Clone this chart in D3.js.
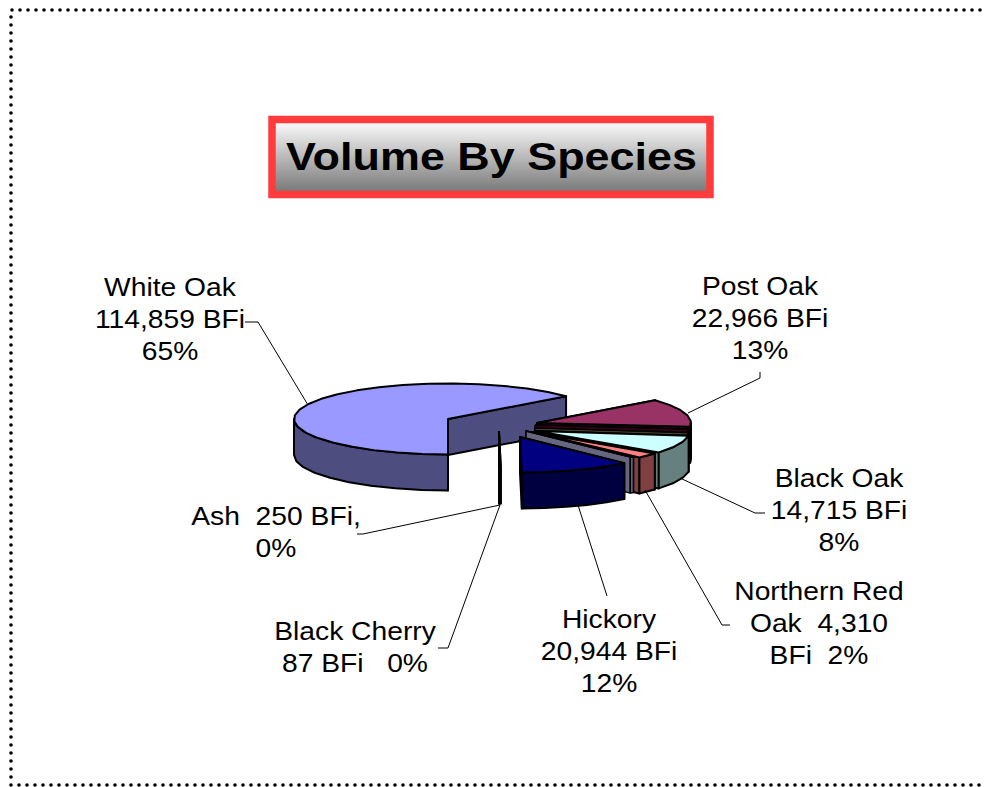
<!DOCTYPE html>
<html>
<head>
<meta charset="utf-8">
<script src="https://cdn.jsdelivr.net/npm/d3@7"></script>
<style>
  body { margin: 0; background: #fff; }
  text { font-family: "Liberation Sans", Arial, sans-serif; fill: #000; }
</style>
</head>
<body>
<div id="chart"></div>
<script>
// data. the three "" slices are unlabelled slivers in the original
var species = ["White Oak", "Post Oak", "", "", "Black Oak", "Northern Red Oak", "", "Hickory", "Ash", "Black Cherry"];
var volumes = [114859, 22966, 300, 500, 14715, 4310, 800, 20944, 250, 87];

var labelLines = [
    ["White Oak", "114,859 BFi", "65%"],
    ["Post Oak", "22,966 BFi", "13%"],
    ["Black Oak", "14,715 BFi", "8%"],
    ["Northern Red", "Oak  4,310", "BFi  2%"],
    ["Hickory", "20,944 BFi", "12%"],
    ["Black Cherry", "87 BFi   0%"],
    ["Ash  250 BFi,", "0%"]
];

var width = 984, height = 787;
var rx = 154, ry = 35.5, depth = 36;

// colours and explode position per slice, same order as species
var topColors = ["#9999ff", "#993366", "#660033", "#8c8c66", "#ccffff", "#ff8080", "#666699", "#000080", "#000", "#000"];
var sideColors = ["#4d4d80", "#4d1a33", "#330019", "#404030", "#668080", "#804040", "#666680", "#000040", "#000", "#000"];
var centers = [[448, 419], [537, 423], [535, 425], [535, 428], [536, 431], [532, 432], [526, 431], [520, 437], [499, 432], [499, 432]];
var strokes = [2, 2, 1, 1, 2, 2, 1.5, 2, 2, 2];
var paintOrder = [0, 1, 2, 3, 4, 5, 6, 8, 9, 7];

var svg = d3.select("#chart").append("svg")
    .attr("width", width)
    .attr("height", height)
    .style("display", "block");

// dotted frame
svg.append("path")
    .attr("d", "M11,785V10H984 M11,785H984")
    .attr("fill", "none")
    .attr("stroke", "#000")
    .attr("stroke-width", 3.6)
    .attr("stroke-linecap", "round")
    .attr("stroke-dasharray", "0 8");

// title box
var grad = svg.append("defs").append("linearGradient")
    .attr("id", "titleFill")
    .attr("x1", 0).attr("y1", 0).attr("x2", 0).attr("y2", 1);
grad.append("stop").attr("offset", 0).attr("stop-color", "#fff");
grad.append("stop").attr("offset", 1).attr("stop-color", "#747474");

svg.append("rect")
    .attr("x", 272).attr("y", 119.5)
    .attr("width", 438).attr("height", 75)
    .attr("fill", "url(#titleFill)")
    .attr("stroke", "#ff3b3b")
    .attr("stroke-width", 7.5);

// the original text is stretched sideways
svg.append("text")
    .attr("x", 286).attr("y", 170)
    .attr("textLength", 411)
    .attr("lengthAdjust", "spacingAndGlyphs")
    .style("font-size", "38.5px")
    .style("font-weight", "bold")
    .text("Volume By Species");

// pie, clockwise from straight down
var startAngle = Math.PI;
var pie = d3.pie().sort(null).startAngle(startAngle).endAngle(startAngle + Math.PI * 2);
var arcs = pie(volumes);

function rim(c, a, drop) {
    return [c[0] + rx * Math.sin(a), c[1] - ry * Math.cos(a) + (drop || 0)];
}

// polygon steps keep the slightly jagged rim of the original
function rimAngles(a0, a1) {
    var step = 10 * Math.PI / 180;
    var n = Math.max(1, Math.ceil((a1 - a0) / step));
    return d3.range(n + 1).map(function (i) { return a0 + (a1 - a0) * i / n; });
}

var line = d3.line();

function drawPath(g, pts, fill, sw) {
    g.append("path")
        .attr("d", line(pts) + "Z")
        .attr("fill", fill)
        .attr("stroke", "#000")
        .attr("stroke-width", sw)
        .attr("stroke-linejoin", "round");
}

var pieG = svg.append("g");

paintOrder.forEach(function (i) {
    var d = arcs[i], c = centers[i];
    var g = pieG.append("g").attr("class", "slice");
    var under = [c[0], c[1] + depth];

    // radial faces
    [d.startAngle, d.endAngle].forEach(function (a) {
        drawPath(g, [c, rim(c, a), rim(c, a, depth), under], sideColors[i], strokes[i]);
    });

    // outer wall, only the part that faces the viewer. slices after White Oak are past one full turn
    var turn = d.startAngle >= Math.PI * 2 ? Math.PI * 2 : 0;
    var low = Math.max(d.startAngle - turn, Math.PI / 2);
    var high = Math.min(d.endAngle - turn, Math.PI * 1.5);
    if (high > low) {
        var ang = rimAngles(low, high);
        var wall = ang.map(function (a) { return rim(c, a); })
            .concat(ang.slice().reverse().map(function (a) { return rim(c, a, depth); }));
        drawPath(g, wall, sideColors[i], strokes[i]);
    }

    // top face
    var top = rimAngles(d.startAngle, d.endAngle).map(function (a) { return rim(c, a); });
    drawPath(g, [c].concat(top), topColors[i], strokes[i]);
});

// leader lines
var leaders = [
    [[245, 322], [258, 322], [308, 405]],
    [[760, 372], [760, 378], [688, 413]],
    [[765, 513], [755, 513], [680, 478]],
    [[730, 625], [722, 625], [645, 490]],
    [[607, 596], [578, 505]],
    [[438, 648], [448, 648], [500, 505]],
    [[357, 534], [363, 534], [500, 505]]
];

svg.append("g").selectAll("path")
    .data(leaders)
    .enter()
    .append("path")
    .attr("d", function (d) { return line(d); })
    .attr("fill", "none")
    .attr("stroke", "#000")
    .attr("stroke-width", 1);

// labels, stretched into the wider letter shape of the original
var labelAnchors = [[170, 296], [760, 295], [839, 487], [819, 600], [609, 628], [355, 640], [276, 525]];
var stretch = 1.13;

var labels = svg.append("g").selectAll("text")
    .data(labelLines)
    .enter()
    .append("text")
    .attr("text-anchor", "middle")
    .attr("transform", function (d, i) {
        return "translate(" + labelAnchors[i][0] + "," + labelAnchors[i][1] + ")scale(" + stretch + ",1)";
    })
    .style("font-size", "25px");

labels.each(function (d) {
    var t = d3.select(this);
    d.forEach(function (s, j) {
        t.append("tspan")
            .attr("x", 0)
            .attr("y", j * 32)
            .style("white-space", "pre")
            .text(s);
    });
});
</script>
</body>
</html>
